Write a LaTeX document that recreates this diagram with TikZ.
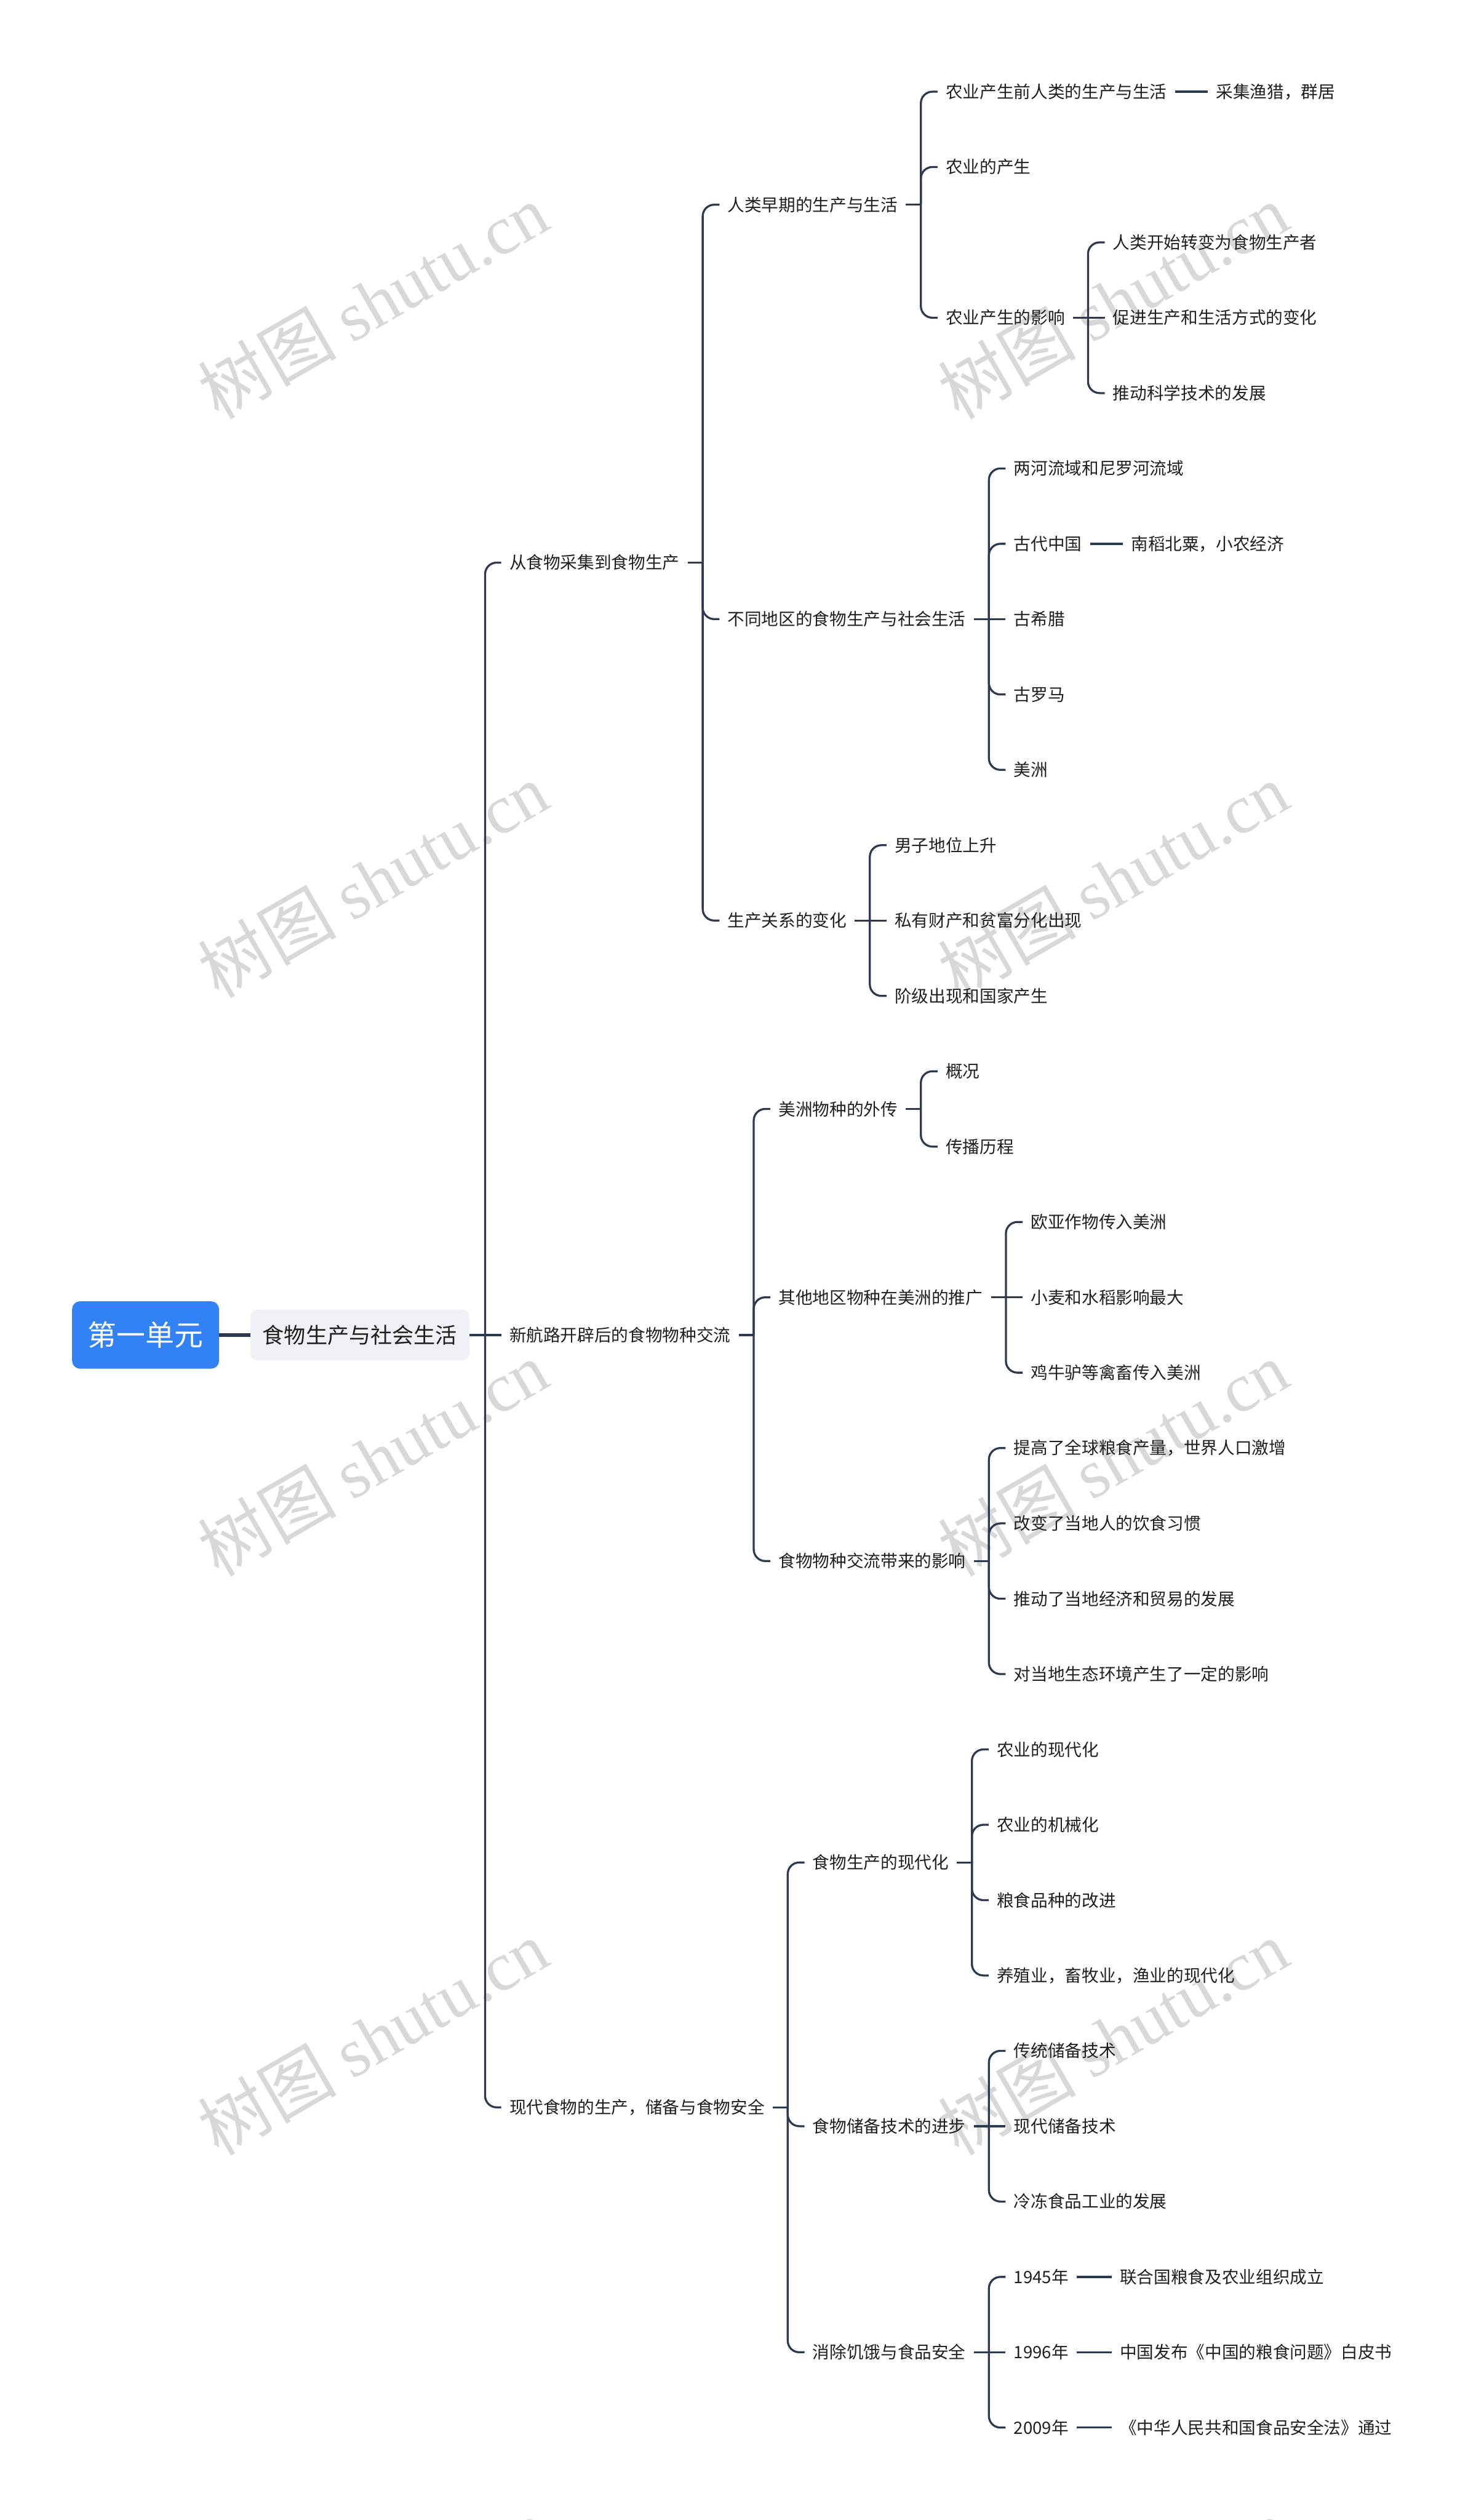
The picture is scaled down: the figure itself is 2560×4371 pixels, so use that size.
\documentclass[tikz,border=0pt]{standalone}
\usepackage{fontspec}
\setmainfont{Noto Sans CJK SC}
\newfontfamily\wmcjk{Noto Sans CJK SC}
\newfontfamily\wmlat{Liberation Serif}
\usetikzlibrary{calc}
\definecolor{lnc}{HTML}{2B3A50}
\definecolor{txc}{HTML}{1F1F1F}
\definecolor{rootc}{HTML}{3281F5}
\definecolor{lonec}{HTML}{EEF1F5}
\definecolor{wmc}{HTML}{D8D8D8}
\def\R{130.7}
\def\Ym{2315.55}
\tikzset{
  txt/.style={font=\fontsize{29.5}{36}\selectfont, text=txc, inner xsep=14pt, inner ysep=4pt, anchor=west},
  ln/.style={draw=lnc, line width=3.5pt},
  br/.style={draw=lnc, line width=3.5pt, rounded corners=20pt},
  rootln/.style={draw=lnc, line width=6pt},
  rootbox/.style={fill=rootc, text=white, rounded corners=14pt, minimum width=255pt, minimum height=117pt, inner sep=0pt, font=\fontsize{50}{60}\selectfont},
  lonebox/.style={fill=lonec, text=txc, rounded corners=12pt, minimum width=380pt, minimum height=88pt, inner sep=0pt, anchor=west, font=\fontsize{37.5}{45}\selectfont},
  wm/.style={text=wmc, rotate=30, inner sep=0pt, font=\fontsize{120}{120}\selectfont},
}
\newcommand\hub[1]{\path (#1.east) ++(26,0) coordinate (#1v) ++(29,0) coordinate (#1c); \draw[ln] (#1.east) -- (#1v);}
\newcommand\kid[4]{\node[txt] (#2) at ($(#1c)+(0,{#3*\R})$) {#4}; \draw[br] (#1v) |- (#2.west);}
\newcommand\midkid[3]{\node[txt] (#2) at (#1c) {#3}; \draw[ln] (#1v) -- (#2.west);}
\begin{document}
\begin{tikzpicture}[x=1pt,y=-1pt]
\useasboundingbox (0,0) rectangle (2560,4371);
\begin{scope}
\clip (0,0) rectangle (2560,4371);
\foreach \wx in {647,1930}{\foreach \wy in {522,1526,2530,3534,4538}{
  \node[wm] (wm\wx\wy) at (\wx,\wy) {{\wmcjk 树图} {\wmlat shutu.cn}};
}}
\end{scope}
\node[rootbox] (r) at (252.5,\Ym) {第一单元};
\node[lonebox] (L) at (434,\Ym) {食物生产与社会生活};
\draw[rootln] (r.east) -- (L.west);
\path (L.east) ++(27,0) coordinate (Lv) ++(28,0) coordinate (Lc);
\node[txt] (a) at ($(Lc)+(0,{-10.25*\R})$) {从食物采集到食物生产};
\node[txt] (b) at (Lc) {新航路开辟后的食物物种交流};
\node[txt] (c) at ($(Lc)+(0,{10.25*\R})$) {现代食物的生产，储备与食物安全};
\draw[ln] (L.east) -- (Lv);
\draw[br] (Lv) |- (a.west);
\draw[ln] (Lv) -- (b.west);
\draw[br] (Lv) |- (c.west);
% branch a
\hub{a}
\kid{a}{a1}{-4.75}{人类早期的生产与生活}
\kid{a}{a2}{0.75}{不同地区的食物生产与社会生活}
\kid{a}{a3}{4.75}{生产关系的变化}
\hub{a1}
\kid{a1}{a11}{-1.5}{农业产生前人类的生产与生活}
\kid{a1}{a12}{-0.5}{农业的产生}
\kid{a1}{a13}{1.5}{农业产生的影响}
\node[txt] (a11x) at ($(a11.east)+(57,0)$) {采集渔猎，群居};
\draw[ln] (a11.east) -- (a11x.west);
\hub{a13}
\kid{a13}{a131}{-1}{人类开始转变为食物生产者}
\midkid{a13}{a132}{促进生产和生活方式的变化}
\kid{a13}{a133}{1}{推动科学技术的发展}
\hub{a2}
\kid{a2}{a21}{-2}{两河流域和尼罗河流域}
\kid{a2}{a22}{-1}{古代中国}
\midkid{a2}{a23}{古希腊}
\kid{a2}{a24}{1}{古罗马}
\kid{a2}{a25}{2}{美洲}
\node[txt] (a22x) at ($(a22.east)+(57,0)$) {南稻北粟，小农经济};
\draw[ln] (a22.east) -- (a22x.west);
\hub{a3}
\kid{a3}{a31}{-1}{男子地位上升}
\midkid{a3}{a32}{私有财产和贫富分化出现}
\kid{a3}{a33}{1}{阶级出现和国家产生}
% branch b
\hub{b}
\kid{b}{b1}{-3}{美洲物种的外传}
\kid{b}{b2}{-0.5}{其他地区物种在美洲的推广}
\kid{b}{b3}{3}{食物物种交流带来的影响}
\hub{b1}
\kid{b1}{b11}{-0.5}{概况}
\kid{b1}{b12}{0.5}{传播历程}
\hub{b2}
\kid{b2}{b21}{-1}{欧亚作物传入美洲}
\midkid{b2}{b22}{小麦和水稻影响最大}
\kid{b2}{b23}{1}{鸡牛驴等禽畜传入美洲}
\hub{b3}
\kid{b3}{b31}{-1.5}{提高了全球粮食产量，世界人口激增}
\kid{b3}{b32}{-0.5}{改变了当地人的饮食习惯}
\kid{b3}{b33}{0.5}{推动了当地经济和贸易的发展}
\kid{b3}{b34}{1.5}{对当地生态环境产生了一定的影响}
% branch c
\hub{c}
\kid{c}{c1}{-3.25}{食物生产的现代化}
\kid{c}{c2}{0.25}{食物储备技术的进步}
\kid{c}{c3}{3.25}{消除饥饿与食品安全}
\hub{c1}
\kid{c1}{c11}{-1.5}{农业的现代化}
\kid{c1}{c12}{-0.5}{农业的机械化}
\kid{c1}{c13}{0.5}{粮食品种的改进}
\kid{c1}{c14}{1.5}{养殖业，畜牧业，渔业的现代化}
\hub{c2}
\kid{c2}{c21}{-1}{传统储备技术}
\midkid{c2}{c22}{现代储备技术}
\kid{c2}{c23}{1}{冷冻食品工业的发展}
\hub{c3}
\kid{c3}{c31}{-1}{1945年}
\midkid{c3}{c32}{1996年}
\kid{c3}{c33}{1}{2009年}
\node[txt] (c31x) at ($(c31.west)+(184,0)$) {联合国粮食及农业组织成立};
\node[txt] (c32x) at ($(c32.west)+(184,0)$) {中国发布《中国的粮食问题》白皮书};
\node[txt] (c33x) at ($(c33.west)+(184,0)$) {《中华人民共和国食品安全法》通过};
\draw[ln] (c31.east) -- (c31x.west);
\draw[ln] (c32.east) -- (c32x.west);
\draw[ln] (c33.east) -- (c33x.west);
\end{tikzpicture}
\end{document}
